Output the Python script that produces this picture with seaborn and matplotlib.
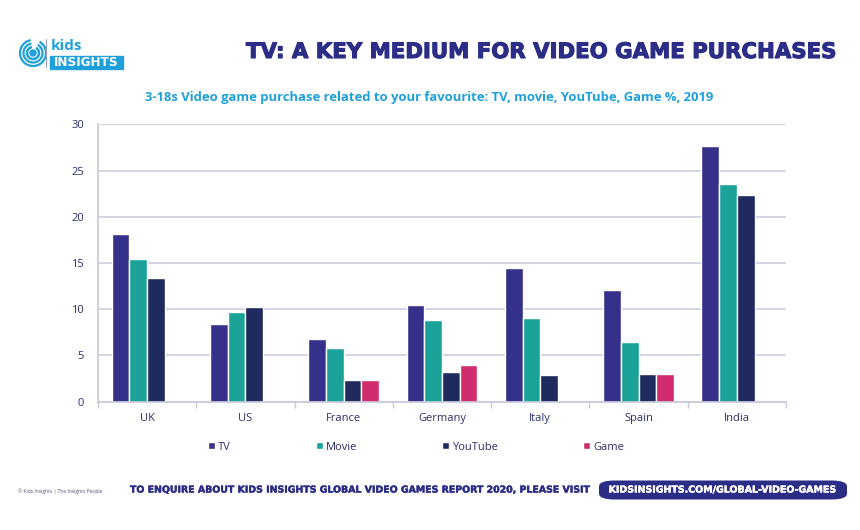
import matplotlib
matplotlib.use("Agg")
import matplotlib.pyplot as plt
import matplotlib.patheffects as pe
import seaborn as sns
import pandas as pd
import numpy as np
from matplotlib.patches import FancyBboxPatch, Circle, Rectangle, Arc

countries = ["UK", "US", "France", "Germany", "Italy", "Spain", "India"]
series = ["TV", "Movie", "YouTube", "Game"]
tv = [18.1, 8.4, 6.8, 10.5, 14.5, 12.1, 27.7]
movie = [15.4, 9.7, 5.8, 8.8, 9.1, 6.5, 23.5]
youtube = [13.4, 10.2, 2.4, 3.2, 2.9, 3.0, 22.4]
game = [np.nan, np.nan, 2.3, 4.0, np.nan, 3.0, np.nan]
yticks = [0, 5, 10, 15, 20, 25, 30]

colors = ["#35318A", "#1BA39A", "#1F2A5E", "#D02C6E"]
navy = "#2B2D86"
sky = "#1FA0DA"

rows = []
for name, vals in zip(series, [tv, movie, youtube, game]):
    for c, v in zip(countries, vals):
        rows.append({"Country": c, "Series": name, "Value": v})
df = pd.DataFrame(rows)

sns.set_theme(style="white")
plt.rcParams["font.family"] = ["Open Sans", "DejaVu Sans"]

fig = plt.figure(figsize=(8.6, 5.3), dpi=100)
ax = fig.add_axes([98/860, 1-401.7/530, (786-98)/860, (401.7-124.3)/530])

sns.barplot(data=df, x="Country", y="Value", hue="Series", order=countries,
            hue_order=series, palette=colors, width=0.72, gap=0,
            saturation=1, ax=ax, errorbar=None, legend=True)

ax.set_ylim(0, 30)
ax.set_yticks(yticks)
ax.set_xlim(-0.5, 6.5)
ax.yaxis.grid(True, color="#C8C8DC", linewidth=1.1)
ax.set_axisbelow(True)
for s in ["top", "right"]:
    ax.spines[s].set_visible(False)
ax.spines["left"].set_color("#C8C8DC")
ax.spines["bottom"].set_color("#C8C8DC")
ax.set_xlabel("")
ax.set_ylabel("")
ax.tick_params(axis="y", labelsize=8, colors="#2D2F6A", length=0, pad=10)
ax.tick_params(axis="x", labelsize=8, colors="#2D2F6A", length=0, pad=8)
ax.set_xticks(np.arange(-0.5, 7, 1), minor=True)
ax.tick_params(axis="x", which="minor", length=4, color="#C8C8DC", bottom=True)

handles, labels = ax.get_legend_handles_labels()
ax.get_legend().remove()
fig.legend(handles, labels, loc="center", bbox_to_anchor=(416/860, 1-447/530),
           ncol=4, frameon=False, fontsize=8, handlelength=0.65, handleheight=0.65,
           handletextpad=0.3, columnspacing=7.6, labelcolor="#2D2F6A")

renderer = fig.canvas.get_renderer()

def fit(t, width_px):
    bb = t.get_window_extent(renderer=renderer)
    t.set_fontsize(t.get_fontsize() * width_px / bb.width)

heavy = ["DejaVu Sans"]

def thick(color, w):
    return [pe.withStroke(linewidth=w, foreground=color)]

# Title and subtitle
t1 = fig.text(837/860, 1-52/530, "TV: A KEY MEDIUM FOR VIDEO GAME PURCHASES",
              ha="right", va="center", fontsize=15, fontweight="bold", color=navy,
              family=heavy, path_effects=thick(navy, 0.8))
fit(t1, 590)
t2 = fig.text(429/860, 1-97/530,
              "3-18s Video game purchase related to your favourite: TV, movie, YouTube, Game %, 2019",
              ha="center", va="center", fontsize=9.3, fontweight="bold", color=sky)
fit(t2, 568)

# Logo
lax = fig.add_axes([14/860, 1-72/530, 115/860, 38/530])
lax.set_xlim(0, 115)
lax.set_ylim(0, 38)
lax.axis("off")
for r, lw in [(13, 1.6), (9.5, 1.6), (6, 1.8)]:
    lax.add_patch(Arc((19, 19), 2*r, 2*r, theta1=100, theta2=420, color=sky, lw=lw))
lax.add_patch(Circle((19, 19), 3.0, color=sky))
lax.plot([32, 32], [5, 33], color="#9AA0C8", lw=0.8)
lax.text(37, 26, "kids", fontsize=11, fontweight="bold", color=sky, va="center", ha="left")
lax.add_patch(Rectangle((36, 3), 73, 13, color=sky))
tl = lax.text(72.5, 9.5, "INSIGHTS", fontsize=9, fontweight="bold", color="white",
              va="center", ha="center", family=heavy)
fit(tl, 64)

# Footer
fig.text(18/860, 1-491/530, "© Kids Insights | The Insights People", fontsize=3.6,
         color="#555577", va="center", ha="left")
tf = fig.text(130/860, 1-490/530,
              "TO ENQUIRE ABOUT KIDS INSIGHTS GLOBAL VIDEO GAMES REPORT 2020, PLEASE VISIT",
              fontsize=8, fontweight="bold", color=navy, va="center", ha="left",
              family=heavy, path_effects=thick(navy, 0.3))
fit(tf, 459)
box = FancyBboxPatch((599/860, 1-499.5/530), 248/860, 19/530,
                     boxstyle="round,pad=0,rounding_size=0.018",
                     transform=fig.transFigure, facecolor=navy, edgecolor="none",
                     mutation_aspect=530/860)
fig.patches.append(box)
tb = fig.text(723/860, 1-490/530, "KIDSINSIGHTS.COM/GLOBAL-VIDEO-GAMES", fontsize=8,
              fontweight="bold", color="white", va="center", ha="center",
              family=heavy, path_effects=thick("white", 0.3))
fit(tb, 227)

fig.savefig("out.png", dpi=100, facecolor="white")
